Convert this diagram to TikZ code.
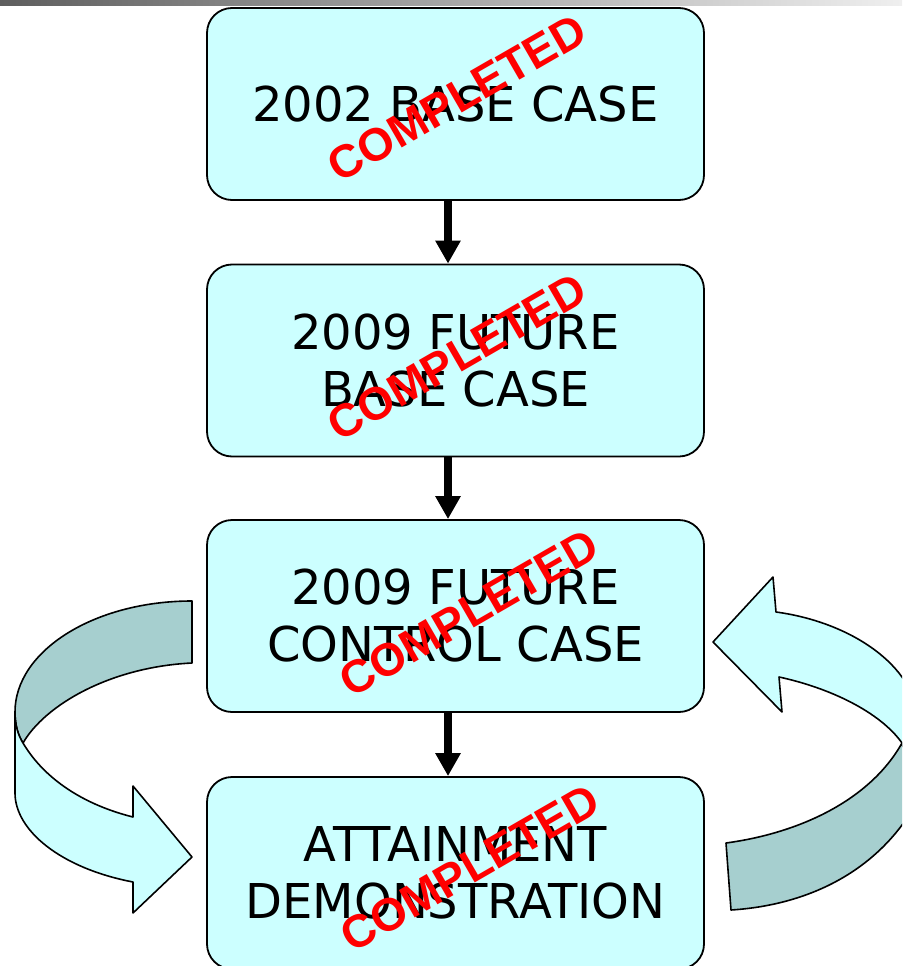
\documentclass[tikz,border=0pt]{standalone}
\usepackage{fontspec}
\setmainfont{DejaVu Sans}
\newfontfamily\stampfont{Liberation Sans}
\usetikzlibrary{arrows.meta}
\definecolor{boxcyan}{HTML}{CCFFFF}
\definecolor{ribbon}{HTML}{A6CFCF}
\definecolor{barleft}{HTML}{5E5E5E}
\definecolor{barright}{HTML}{EFEFEF}
\tikzstyle{stage}=[rectangle, rounded corners=25pt, draw, line width=1.8pt, fill=boxcyan, minimum width=497pt, minimum height=192pt, align=center, font=\fontsize{48}{57}\selectfont]
\tikzstyle{stamp}=[text=red, rotate=30, inner sep=0pt, font=\stampfont\bfseries\fontsize{46}{46}\selectfont]
\tikzstyle{flow}=[line width=8pt, -{Triangle[width=24pt, length=23pt]}]
\tikzstyle{band}=[draw, line width=1.6pt, line join=round]

\begin{document}
\begin{tikzpicture}[x=1pt, y=-1pt]
                \useasboundingbox (0,0) rectangle (902,966);
                \clip (0,0) rectangle (902,966);
                \shade[left color=barleft, right color=barright] (0,0) rectangle (902,6);
                % stages
                \node[stage] (base) at (455.5, 104) {2002 BASE CASE};
                \node[stage] (fut) at (455.5, 360.5) {2009 FUTURE\\BASE CASE};
                \node[stage] (ctrl) at (455.5, 616) {2009 FUTURE\\CONTROL CASE};
                \node[stage] (att) at (455.5, 873) {ATTAINMENT\\DEMONSTRATION};
                \node[stamp] (sbase) at (457, 98) {COMPLETED};
                \node[stamp] (sfut) at (457, 357) {COMPLETED};
                \node[stamp] (sctrl) at (469, 613) {COMPLETED};
                \node[stamp] (satt) at (470, 868) {COMPLETED};
                \draw[flow] ([xshift=-7.5pt]base.south) -- ([xshift=-7.5pt]fut.north);
                \draw[flow] ([xshift=-7.5pt]fut.south) -- ([xshift=-7.5pt]ctrl.north);
                \draw[flow] ([xshift=-7.5pt]ctrl.south) -- ([xshift=-7.5pt]att.north);
                % left loop
                \path[band, fill=ribbon] (192,601) .. controls (94,601) and (15,651) .. (15,712)
                    .. controls (15,725) and (18,735) .. (23,743)
                    .. controls (45,705) and (110,667) .. (192,663) -- cycle;
                \path[band, fill=boxcyan] (15,712) -- (15,793) .. controls (15,830) and (60,868) .. (133,882)
                    -- (133,913) -- (192,857) -- (133,786) -- (133,817)
                    .. controls (85,805) and (45,780) .. (23,743)
                    .. controls (18,735) and (15,725) .. (15,712) -- cycle;
                % right loop
                \path[band, fill=ribbon] (731,910) .. controls (810,905) and (880,870) .. (918,800)
                    -- (918,790) .. controls (910,770) and (905,755) .. (902,743)
                    .. controls (870,800) and (800,833) .. (726,843) -- cycle;
                \path[band, fill=boxcyan] (776,612) .. controls (850,622) and (915,665) .. (918,720)
                    -- (918,790) .. controls (910,770) and (905,755) .. (902,743)
                    .. controls (880,712) and (830,688) .. (779,677)
                    -- (782,712) -- (713,642) -- (773,577) -- cycle;
            \end{tikzpicture}
\end{document}
